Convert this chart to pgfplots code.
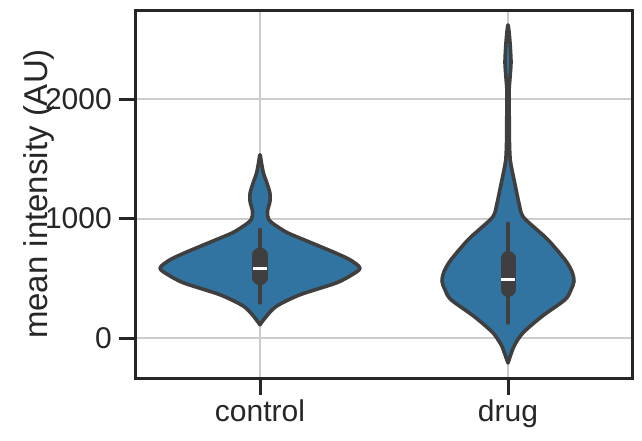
\documentclass[border=0pt]{standalone}
\usepackage{fontspec}
\setmainfont{Liberation Sans}
\usepackage{pgfplots}
\pgfplotsset{compat=1.18}
\definecolor{vfill}{HTML}{3274A1}
\definecolor{vline}{HTML}{3F3F3F}
\definecolor{frame}{HTML}{262626}
\definecolor{gridc}{HTML}{CCCCCC}
\begin{document}
\begin{tikzpicture}
\begin{axis}[
  scale only axis,
  width=496pt, height=368pt,
  xmin=-0.5, xmax=1.5,
  ymin=-335, ymax=2747,
  xtick={0,1}, xticklabels={control,drug},
  ytick={0,1000,2000},
  grid=major,
  grid style={line width=2pt, color=gridc},
  axis line style={line width=3pt, color=frame},
  major tick style={line width=3pt, color=frame},
  major tick length=17pt,
  tick align=outside,
  xtick pos=bottom, ytick pos=left,
  /pgf/number format/assume math mode=true,
  /pgf/number format/1000 sep={},
  yticklabel style={font=\fontsize{30}{36}\selectfont, text=frame, anchor=east, xshift=-7pt, inner sep=0pt},
  xticklabel style={font=\fontsize{30}{36}\selectfont, text=frame, anchor=north, yshift=-4.5pt, inner sep=0pt},
  ylabel={mean intensity (AU)},
  ylabel style={font=\fontsize{33}{40}\selectfont, text=frame, at={(axis description cs:-0.1956,0.5)}, anchor=center},
]
% control violin
\addplot[fill=vfill, draw=vline, line width=3.6pt, line join=round, smooth, tension=0.5] coordinates {
(0,111) (0.020,167) (0.065,264) (0.161,362) (0.306,460) (0.371,530) (0.403,586) (0.363,655) (0.306,711) (0.242,767) (0.177,823) (0.113,879) (0.069,934) (0.036,990) (0.030,1059) (0.040,1143) (0.040,1213) (0.028,1297) (0.014,1381) (0.006,1464) (0,1534)
(-0.006,1464) (-0.014,1381) (-0.028,1297) (-0.040,1213) (-0.040,1143) (-0.030,1059) (-0.036,990) (-0.069,934) (-0.113,879) (-0.177,823) (-0.242,767) (-0.306,711) (-0.363,655) (-0.403,586) (-0.371,530) (-0.306,460) (-0.161,362) (-0.065,264) (-0.020,167)
} -- cycle;
% drug violin
\addplot[fill=vfill, draw=vline, line width=3.6pt, line join=round, smooth, tension=0.5] coordinates {
(1,-209) (1.024,-70) (1.060,42) (1.137,181) (1.230,321) (1.254,404) (1.266,474) (1.258,555) (1.230,655) (1.161,823) (1.117,906) (1.060,1018) (1.044,1130) (1.030,1269) (1.016,1408) (1.009,1492) (1.006,1618) (1.005,1827) (1.004,2053) (1.008,2178) (1.012,2301) (1.010,2413) (1.006,2524) (1,2622)
(0.994,2524) (0.990,2413) (0.988,2301) (0.992,2178) (0.996,2053) (0.995,1827) (0.994,1618) (0.991,1492) (0.984,1408) (0.970,1269) (0.956,1130) (0.940,1018) (0.883,906) (0.839,823) (0.770,655) (0.742,555) (0.734,474) (0.746,404) (0.770,321) (0.863,181) (0.940,42) (0.976,-70)
} -- cycle;
% control box
\addplot[draw=vline, line width=4pt, line cap=round] coordinates {(0,296) (0,906)};
\addplot[draw=vline, line width=15pt, line cap=round] coordinates {(0,505) (0,695)};
\addplot[draw=white, line width=3pt] coordinates {(-0.028,580) (0.028,580)};
% drug box
\addplot[draw=vline, line width=4pt, line cap=round] coordinates {(1,128) (1,959)};
\addplot[draw=vline, line width=15pt, line cap=round] coordinates {(1,407) (1,666)};
\addplot[draw=white, line width=3pt] coordinates {(0.972,494) (1.028,494)};
\end{axis}
\pgfresetboundingbox
\path ([shift={(-136pt,-62pt)}]current axis.south west) rectangle ([shift={(10pt,10pt)}]current axis.north east);
\end{tikzpicture}
\end{document}
